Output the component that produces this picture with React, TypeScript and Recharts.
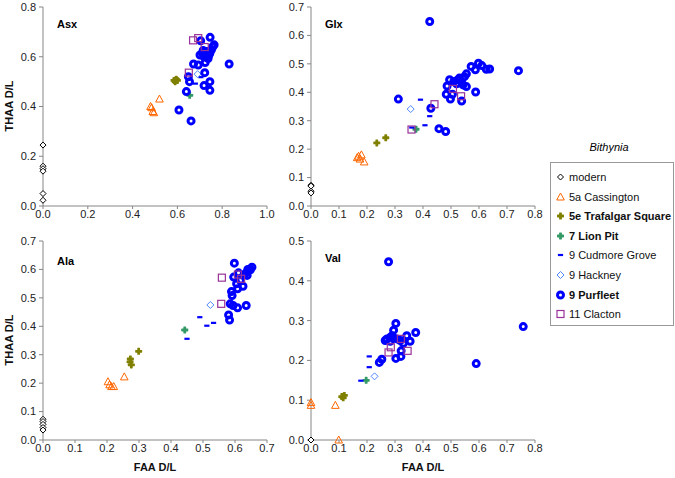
import { ScatterChart, Scatter, XAxis, YAxis } from 'recharts'

type Pt = [number, number]

// Asx
const asxModern: Pt[] = [[0, 0.245], [0, 0.16], [0, 0.15], [0, 0.14], [0, 0.05], [0, 0.023]]
const asxCassington: Pt[] = [[0.52, 0.43], [0.48, 0.4], [0.485, 0.395], [0.49, 0.38], [0.495, 0.375]]
const asxTrafalgar: Pt[] = [[0.585, 0.505], [0.595, 0.51], [0.6, 0.505], [0.59, 0.5]]
const asxLionPit: Pt[] = [[0.655, 0.445]]
const asxCudmore: Pt[] = [[0.68, 0.492], [0.705, 0.518]]
const asxHackney: Pt[] = [[0.69, 0.53]]
const asxPurfleet: Pt[] = [
  [0.704, 0.664], [0.746, 0.678], [0.764, 0.648], [0.712, 0.614], [0.73, 0.621], [0.745, 0.614],
  [0.752, 0.628], [0.719, 0.6], [0.701, 0.607], [0.737, 0.593], [0.672, 0.571], [0.693, 0.567],
  [0.724, 0.577], [0.831, 0.571], [0.722, 0.536], [0.649, 0.52], [0.654, 0.5], [0.745, 0.5],
  [0.719, 0.484], [0.745, 0.465], [0.64, 0.46], [0.607, 0.386], [0.661, 0.342], [0.725, 0.61],
  [0.715, 0.625], [0.74, 0.605], [0.758, 0.64],
]
const asxClacton: Pt[] = [[0.67, 0.666], [0.693, 0.675], [0.722, 0.639], [0.651, 0.536]]

// Glx
const glxModern: Pt[] = [[0, 0.073], [0, 0.07], [0, 0.052], [0, 0.046]]
const glxCassington: Pt[] = [[0.17, 0.175], [0.18, 0.18], [0.175, 0.165], [0.19, 0.155], [0.165, 0.17]]
const glxTrafalgar: Pt[] = [[0.235, 0.222], [0.267, 0.24]]
const glxLionPit: Pt[] = [[0.375, 0.27]]
const glxCudmore: Pt[] = [[0.391, 0.374], [0.424, 0.316], [0.407, 0.284], [0.36, 0.276]]
const glxHackney: Pt[] = [[0.356, 0.341]]
const glxPurfleet: Pt[] = [
  [0.424, 0.649], [0.312, 0.376], [0.428, 0.344], [0.457, 0.272], [0.481, 0.262], [0.486, 0.422],
  [0.483, 0.393], [0.505, 0.393], [0.498, 0.376], [0.538, 0.369], [0.495, 0.444], [0.51, 0.438],
  [0.525, 0.444], [0.537, 0.438], [0.543, 0.426], [0.555, 0.42], [0.555, 0.465], [0.548, 0.455],
  [0.572, 0.491], [0.587, 0.479], [0.598, 0.502], [0.61, 0.494], [0.626, 0.481], [0.638, 0.482],
  [0.588, 0.401], [0.741, 0.476], [0.53, 0.45], [0.52, 0.43],
]
const glxClacton: Pt[] = [[0.359, 0.269], [0.441, 0.358], [0.507, 0.412], [0.536, 0.386]]

// Ala
const alaModern: Pt[] = [[0, 0.073], [0, 0.065], [0, 0.055], [0, 0.044], [0, 0.035]]
const alaCassington: Pt[] = [[0.203, 0.205], [0.208, 0.194], [0.214, 0.188], [0.221, 0.188], [0.254, 0.222]]
const alaTrafalgar: Pt[] = [[0.273, 0.285], [0.276, 0.264], [0.299, 0.312], [0.272, 0.275]]
const alaLionPit: Pt[] = [[0.443, 0.387]]
const alaCudmore: Pt[] = [[0.49, 0.432], [0.512, 0.402], [0.533, 0.412], [0.45, 0.356]]
const alaHackney: Pt[] = [[0.523, 0.475]]
const alaPurfleet: Pt[] = [
  [0.598, 0.622], [0.611, 0.588], [0.589, 0.522], [0.591, 0.508], [0.608, 0.532], [0.625, 0.541],
  [0.585, 0.479], [0.594, 0.473], [0.608, 0.465], [0.635, 0.473], [0.58, 0.44], [0.583, 0.422],
  [0.638, 0.591], [0.648, 0.599], [0.653, 0.608], [0.629, 0.582], [0.638, 0.579], [0.596, 0.573],
  [0.617, 0.561], [0.64, 0.6], [0.605, 0.55],
]
const alaClacton: Pt[] = [[0.557, 0.479], [0.559, 0.571], [0.609, 0.582], [0.619, 0.567]]

// Val
const valModern: Pt[] = [[0, 0]]
const valCassington: Pt[] = [[0, 0.094], [0, 0.087], [0.087, 0.087], [0.099, 0]]
const valTrafalgar: Pt[] = [[0.11, 0.109], [0.119, 0.112], [0.115, 0.106]]
const valLionPit: Pt[] = [[0.197, 0.15]]
const valCudmore: Pt[] = [[0.178, 0.149], [0.208, 0.183], [0.208, 0.21]]
const valHackney: Pt[] = [[0.227, 0.16]]
const valPurfleet: Pt[] = [
  [0.277, 0.448], [0.758, 0.285], [0.59, 0.192], [0.374, 0.27], [0.342, 0.262], [0.354, 0.248],
  [0.303, 0.293], [0.295, 0.276], [0.271, 0.254], [0.283, 0.258], [0.295, 0.256], [0.307, 0.254],
  [0.283, 0.248], [0.319, 0.25], [0.33, 0.243], [0.303, 0.205], [0.321, 0.21], [0.322, 0.224],
  [0.244, 0.195], [0.253, 0.203], [0.265, 0.25], [0.29, 0.262],
]
const valClacton: Pt[] = [[0.277, 0.22], [0.285, 0.233], [0.321, 0.254], [0.345, 0.224]]

const seriesNames = [
  'modern', '5a Cassington', '5e Trafalgar Square', '7 Lion Pit',
  '9 Cudmore Grove', '9 Hackney', '9 Purfleet', '11 Clacton',
]
const boldNames = ['5e Trafalgar Square', '7 Lion Pit', '9 Purfleet']

const ticks01 = [0, 0.2, 0.4, 0.6, 0.8, 1.0]
const ticks08 = [0, 0.1, 0.2, 0.3, 0.4, 0.5, 0.6, 0.7, 0.8]
const ticks07 = [0, 0.1, 0.2, 0.3, 0.4, 0.5, 0.6, 0.7]
const ticks05 = [0, 0.1, 0.2, 0.3, 0.4, 0.5]
const ticksAsxY = [0, 0.2, 0.4, 0.6, 0.8]

const FONT = '"Liberation Sans", Arial, sans-serif'
const AXIS = '#868686'

// marker drawing, one per series
const Marker = ({ cx, cy, i }: { cx: number; cy: number; i: number }) => {
  switch (i) {
    case 0:
      return <path d={`M${cx},${cy - 3}L${cx + 3},${cy}L${cx},${cy + 3}L${cx - 3},${cy}Z`} fill="#fff" stroke="#000" strokeWidth={1} />
    case 1:
      return <path d={`M${cx},${cy - 4}L${cx + 3.8},${cy + 3}L${cx - 3.8},${cy + 3}Z`} fill="none" stroke="#FF6600" strokeWidth={1} />
    case 2:
    case 3: {
      const c = i === 2 ? '#808000' : '#339966'
      return (
        <g fill={c}>
          <rect x={cx - 3.5} y={cy - 1.4} width={7} height={2.8} rx={0.6} />
          <rect x={cx - 1.4} y={cy - 3.5} width={2.8} height={7} rx={0.6} />
        </g>
      )
    }
    case 4:
      return <rect x={cx - 2.6} y={cy - 1.1} width={5.2} height={2.2} fill="#0000FF" />
    case 5:
      return <path d={`M${cx},${cy - 3.5}L${cx + 3.5},${cy}L${cx},${cy + 3.5}L${cx - 3.5},${cy}Z`} fill="#fff" stroke="#4D88FF" strokeWidth={1} />
    case 6:
      return <circle cx={cx} cy={cy} r={3} fill="none" stroke="#0000FF" strokeWidth={3} />
    default:
      return <rect x={cx - 3.5} y={cy - 3.5} width={7} height={7} fill="none" stroke="#993399" strokeWidth={1.2} />
  }
}

const toData = (pts: Pt[]) => pts.map(([x, y]) => ({ x, y }))

interface PanelProps {
  left: number
  top: number
  title: string
  titleTop: number
  xMax: number
  yMax: number
  xTicks: number[]
  yTicks: number[]
  sets: Pt[][]
}

function Panel({ left, top, title, titleTop, xMax, yMax, xTicks, yTicks, sets }: PanelProps) {
  const tick = { fontSize: 11, fill: '#222', fontFamily: FONT }
  return (
    <div style={{ position: 'absolute', left, top }}>
      <ScatterChart width={277} height={228} margin={{ top: 7, right: 10, left: 0, bottom: 0 }}>
        <XAxis
          type="number"
          dataKey="x"
          domain={[0, xMax]}
          ticks={xTicks}
          tickFormatter={(v) => v.toFixed(1)}
          height={22}
          tickSize={3}
          tickMargin={1}
          stroke={AXIS}
          tick={tick}
          interval={0}
        />
        <YAxis
          type="number"
          dataKey="y"
          domain={[0, yMax]}
          ticks={yTicks}
          tickFormatter={(v) => v.toFixed(1)}
          width={43}
          tickSize={4}
          tickMargin={3}
          stroke={AXIS}
          tick={tick}
          interval={0}
        />
        {sets.map((pts, i) => (
          <Scatter
            key={seriesNames[i]}
            name={seriesNames[i]}
            data={toData(pts)}
            isAnimationActive={false}
            shape={(p: any) => <Marker cx={p.cx} cy={p.cy} i={i} />}
          />
        ))}
      </ScatterChart>
      <div style={{ position: 'absolute', left: 57, top: titleTop, fontFamily: FONT, fontSize: 11, fontWeight: 'bold', lineHeight: '13px' }}>
        {title}
      </div>
    </div>
  )
}

const yLabel = (centerY: number) => (
  <div
    style={{
      position: 'absolute', left: 9, top: centerY, width: 80, marginLeft: -40, marginTop: -7,
      textAlign: 'center', transform: 'rotate(-90deg)', fontFamily: FONT, fontSize: 11,
      fontWeight: 'bold', lineHeight: '14px', color: '#111',
    }}
  >
    THAA D/L
  </div>
)

const xLabel = (centerX: number) => (
  <div
    style={{
      position: 'absolute', left: centerX - 40, top: 460, width: 80, textAlign: 'center',
      fontFamily: FONT, fontSize: 11, fontWeight: 'bold', lineHeight: '14px', color: '#111',
    }}
  >
    FAA D/L
  </div>
)

export default function App() {
  return (
    <div style={{ position: 'absolute', left: 0, top: 0, width: 675, height: 478, background: '#fff', overflow: 'hidden' }}>
      <Panel left={0} top={0} title="Asx" titleTop={18} xMax={1} yMax={0.8} xTicks={ticks01} yTicks={ticksAsxY}
        sets={[asxModern, asxCassington, asxTrafalgar, asxLionPit, asxCudmore, asxHackney, asxPurfleet, asxClacton]} />
      <Panel left={268} top={0} title="Glx" titleTop={18} xMax={0.8} yMax={0.7} xTicks={ticks08} yTicks={ticks07}
        sets={[glxModern, glxCassington, glxTrafalgar, glxLionPit, glxCudmore, glxHackney, glxPurfleet, glxClacton]} />
      <Panel left={0} top={234} title="Ala" titleTop={21} xMax={0.7} yMax={0.7} xTicks={ticks07} yTicks={ticks07}
        sets={[alaModern, alaCassington, alaTrafalgar, alaLionPit, alaCudmore, alaHackney, alaPurfleet, alaClacton]} />
      <Panel left={268} top={234} title="Val" titleTop={18} xMax={0.8} yMax={0.5} xTicks={ticks08} yTicks={ticks05}
        sets={[valModern, valCassington, valTrafalgar, valLionPit, valCudmore, valHackney, valPurfleet, valClacton]} />

      {yLabel(106)}
      {yLabel(340)}
      {xLabel(155)}
      {xLabel(423)}

      <div style={{ position: 'absolute', left: 579, top: 140, width: 60, textAlign: 'center', fontFamily: FONT, fontSize: 11, fontStyle: 'italic', lineHeight: '14px' }}>
        Bithynia
      </div>
      <div style={{ position: 'absolute', left: 550, top: 162, width: 122, height: 162, border: '1px solid #999', background: '#fff' }}>
        {seriesNames.map((name, i) => (
          <div key={name} style={{ position: 'absolute', left: 0, top: 7 + i * 19.6, height: 14, width: 122 }}>
            <svg width={20} height={14} style={{ position: 'absolute', left: 0, top: 0 }}>
              <Marker cx={9.5} cy={7} i={i} />
            </svg>
            <span
              style={{
                position: 'absolute', left: 18, top: 0, fontFamily: FONT, fontSize: 11, lineHeight: '14px',
                whiteSpace: 'nowrap', fontWeight: boldNames.includes(name) ? 'bold' : 'normal', color: '#111',
              }}
            >
              {name}
            </span>
          </div>
        ))}
      </div>
    </div>
  )
}
